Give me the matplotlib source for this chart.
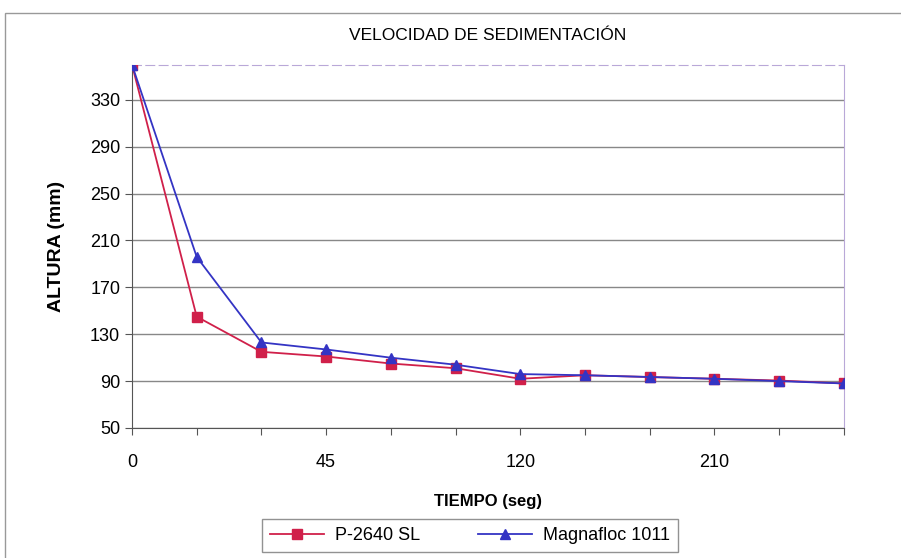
import matplotlib.pyplot as plt

# Velocidad de sedimentación: altura de la interfase vs. tiempo

tiempo = ["0", "15", "30", "45", "60", "90", "120", "150", "180", "210", "240", "270"]
etiquetas_x = ["0", "", "", "45", "", "", "120", "", "", "210", "", ""]
p2640 = [360, 145, 115, 111, 105, 101, 92, 95, 93.5, 92, 90.5, 88]
magnafloc = [360, 196, 123, 117, 110, 104, 96, 95, 93.5, 92, 90, 88]
y_ticks = [50, 90, 130, 170, 210, 250, 290, 330]

plt.rcParams["font.family"] = ["Liberation Sans", "DejaVu Sans"]

fig = plt.figure(figsize=(9.01, 5.58), dpi=100)
ax = fig.add_axes([0.1465, 0.233, 0.79, 0.651])

x = list(range(len(tiempo)))
ax.plot(x, p2640, color="#d0204a", marker="s", markersize=6.5, linewidth=1.3,
        label="P-2640 SL", zorder=3)
ax.plot(x, magnafloc, color="#3434c4", marker="^", markersize=6.5, linewidth=1.3,
        label="Magnafloc 1011", zorder=4)

ax.set_xlim(0, len(tiempo) - 1)
ax.set_ylim(50, 360)
ax.set_yticks(y_ticks)
ax.set_xticks(x)
ax.set_xticklabels(etiquetas_x)
ax.tick_params(axis="both", labelsize=13, length=5, color="#555555")
ax.tick_params(axis="x", pad=14)
ax.grid(True, axis="y", color="#888888", linewidth=1)
ax.set_axisbelow(True)

for lado in ["left", "bottom"]:
    ax.spines[lado].set_color("#555555")
ax.spines["right"].set_color("#b9a8d8")
ax.spines["top"].set_color("#b9a8d8")
ax.spines["top"].set_linestyle((0, (8, 4)))

ax.set_title("VELOCIDAD DE SEDIMENTACIÓN", fontsize=12.5, pad=18)
ax.set_xlabel("TIEMPO (seg)", fontsize=12, fontweight="bold", labelpad=16)
ax.set_ylabel("ALTURA (mm)", fontsize=14, fontweight="bold", labelpad=18)

fig.legend(loc="upper left", bbox_to_anchor=(262 / 901, 1 - 519 / 558),
           borderaxespad=0, ncol=2, fontsize=13, frameon=True, fancybox=False,
           edgecolor="#777777", handlelength=3, columnspacing=3.2,
           borderpad=0.45, handletextpad=0.6)

# marco del gráfico
fig.patches.append(plt.Rectangle((5 / 901, -0.1), 1.2, 1 - 13 / 558 + 0.1,
                                 transform=fig.transFigure, fill=False,
                                 edgecolor="#999999", linewidth=1))

fig.savefig("out.png", dpi=100)
